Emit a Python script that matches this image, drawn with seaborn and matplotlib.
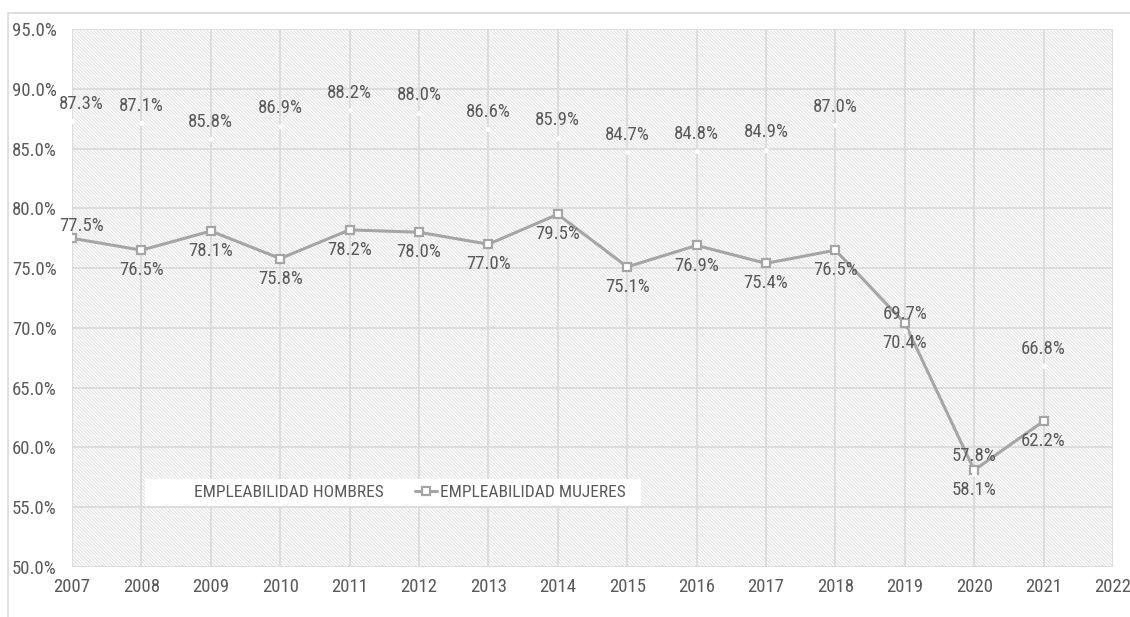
import matplotlib
matplotlib.use("Agg")
import matplotlib.pyplot as plt
from matplotlib import font_manager
from matplotlib.patches import Rectangle
from matplotlib.ticker import FuncFormatter
import seaborn as sns
import pandas as pd

# Employability rate by sex, 2007-2021 (%)
years = list(range(2007, 2022))
hombres = [87.3, 87.1, 85.8, 86.9, 88.2, 88.0, 86.6, 85.9, 84.7, 84.8, 84.9, 87.0, 69.7, 57.8, 66.8]
mujeres = [77.5, 76.5, 78.1, 75.8, 78.2, 78.0, 77.0, 79.5, 75.1, 76.9, 75.4, 76.5, 70.4, 58.1, 62.2]
series_names = ["EMPLEABILIDAD HOMBRES", "EMPLEABILIDAD MUJERES"]
x_ticks = list(range(2007, 2023))
y_ticks = [50, 55, 60, 65, 70, 75, 80, 85, 90, 95]

sns.set_theme(style="white")

# prefer a condensed sans face when one is available
installed = {f.name for f in font_manager.fontManager.ttflist}
narrow = [n for n in ["Liberation Sans Narrow", "Roboto Condensed", "Open Sans Condensed",
                      "Noto Sans Condensed", "DejaVu Sans Condensed"] if n in installed]
if narrow:
    family = [narrow[0], "DejaVu Sans"]
    FS = 13.5
else:
    family = ["Roboto", "DejaVu Sans"]
    FS = 11
plt.rcParams["font.family"] = family
plt.rcParams["hatch.linewidth"] = 0.5

TEXT = "#595959"
GRID = "#d9d9d9"
HATCH = "#d4d4d4"
LINE = "#a5a5a5"

W, H = 1130, 617
fig = plt.figure(figsize=(W / 100, H / 100), dpi=100)
fig.patch.set_facecolor("white")

# thin outer chart border
fig.add_artist(Rectangle((8 / W, -0.2), 1.5, 1.2 - 13 / H, transform=fig.transFigure,
                         fill=False, edgecolor=GRID, lw=1.2))

ax = fig.add_axes([72 / W, 1 - 567 / H, (1113 - 72) / W, (567 - 29) / H])

# hatched plot-area fill
ax.add_patch(Rectangle((0, 0), 1, 1, transform=ax.transAxes, facecolor="white",
                       edgecolor=HATCH, hatch="\\" * 10, lw=0, zorder=0))

df = pd.DataFrame({"year": years, "H": hombres, "M": mujeres})

sns.lineplot(data=df, x="year", y="M", color=LINE, lw=2.2, marker="s", markersize=6,
             markerfacecolor="white", markeredgecolor=LINE, markeredgewidth=1.6,
             label=series_names[1], ax=ax, zorder=3)
sns.lineplot(data=df, x="year", y="H", color="white", linestyle="", marker="o",
             markersize=3.5, markeredgewidth=0, label=series_names[0], ax=ax, zorder=3)

ax.set_xlim(2007, 2022)
ax.set_ylim(50, 95)
ax.set_xticks(x_ticks)
ax.set_yticks(y_ticks)
ax.yaxis.set_major_formatter(FuncFormatter(lambda v, _: f"{v:.1f}%"))
ax.set_xlabel("")
ax.set_ylabel("")
ax.grid(True, color=GRID, lw=1.2)
ax.set_axisbelow(True)
for s in ax.spines.values():
    s.set_visible(False)
ax.tick_params(axis="both", length=0, colors=TEXT, labelsize=FS)
ax.tick_params(axis="y", pad=11)
ax.tick_params(axis="x", pad=8)

# value labels
for x, v in zip(years, hombres):
    dx = 7 if x == years[0] else 0
    ax.annotate(f"{v:.1f}%", (x, v), xytext=(dx, 12.5), textcoords="offset points",
                ha="center", va="center", color=TEXT, fontsize=FS, zorder=5)
for x, v in zip(years, mujeres):
    first = x == years[0]
    dx = 7 if first else 0
    dy = 8.5 if first else -14.5
    ax.annotate(f"{v:.1f}%", (x, v), xytext=(dx, dy), textcoords="offset points",
                ha="center", va="center", color=TEXT, fontsize=FS, zorder=5)

# legend on a white band inside the plot area
aw = 1113 - 72
x0, x1 = (145 - 72) / aw, (641 - 72) / aw
y0, y1 = (567 - 506) / 538, (567 - 479) / 538
ax.add_patch(Rectangle((x0, y0), x1 - x0, y1 - y0, transform=ax.transAxes,
                       facecolor="white", edgecolor="none", zorder=4))
handles, labels = ax.get_legend_handles_labels()
order = [labels.index(n) for n in series_names]
leg = ax.legend([handles[i] for i in order], [labels[i] for i in order],
                loc="center", bbox_to_anchor=((x0 + x1) / 2 + 0.004, (y0 + y1) / 2),
                ncol=2, frameon=False, fontsize=FS - 1, handlelength=1.3,
                handletextpad=0.15, columnspacing=1.8, borderpad=0)
for t in leg.get_texts():
    t.set_color(TEXT)
leg.set_zorder(6)

fig.savefig("out.png", dpi=100)
